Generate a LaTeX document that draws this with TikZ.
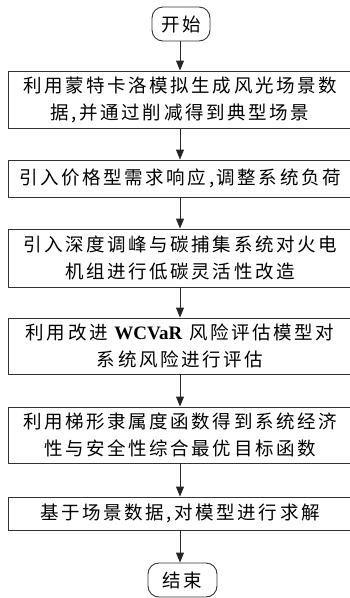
\documentclass[tikz,border=0pt]{standalone}
\usepackage{fontspec}
\setmainfont{Liberation Serif}
\newfontfamily\cjk[LetterSpace=14]{Noto Sans CJK SC}
\newfontfamily\lat{Liberation Serif}
\usetikzlibrary{arrows.meta}
\tikzset{
  procbox/.style={draw=black!80, line width=0.9pt, minimum width=343pt, inner sep=0pt, align=center, font=\cjk\fontsize{18.5}{27}\selectfont},
  termbox/.style={draw=black!80, line width=0.9pt, rounded corners=11pt, inner sep=0pt, align=center, font=\cjk\fontsize{18.5}{27}\selectfont},
  flow/.style={draw=black!85, line width=0.9pt, -{Triangle[length=10pt,width=8pt]}}
}
\begin{document}
\begin{tikzpicture}[x=1pt,y=-1pt]
\useasboundingbox (0,0) rectangle (349,598);
\node[termbox, minimum width=58pt, minimum height=34pt] (start) at (181,24) {开始};
\node[procbox, minimum height=57pt] (b1) at (180,99.5) {利用蒙特卡洛模拟生成风光场景数\\据,并通过削减得到典型场景};
\node[procbox, minimum height=37pt] (b2) at (180,178.5) {引入价格型需求响应,调整系统负荷};
\node[procbox, minimum height=58pt] (b3) at (180,258) {引入深度调峰与碳捕集系统对火电\\机组进行低碳灵活性改造};
\node[procbox, minimum height=56pt] (b4) at (180,346) {利用改进 {\lat\bfseries\fontsize{19}{27}\selectfont WCVaR} 风险评估模型对\\系统风险进行评估};
\node[procbox, minimum height=56pt] (b5) at (180,435) {利用梯形隶属度函数得到系统经济\\性与安全性综合最优目标函数};
\node[procbox, minimum height=33pt] (b6) at (180,513.5) {基于场景数据,对模型进行求解};
\node[termbox, minimum width=69pt, minimum height=34pt] (end) at (182.5,580) {结束};
\draw[flow] (start.south -| 180,0) -- (b1.north -| 180,0);
\draw[flow] (b1) -- (b2);
\draw[flow] (b2) -- (b3);
\draw[flow] (b3) -- (b4);
\draw[flow] (b4) -- (b5);
\draw[flow] (b5) -- (b6);
\draw[flow] (b6.south -| 180,0) -- (end.north -| 180,0);
\end{tikzpicture}
\end{document}
